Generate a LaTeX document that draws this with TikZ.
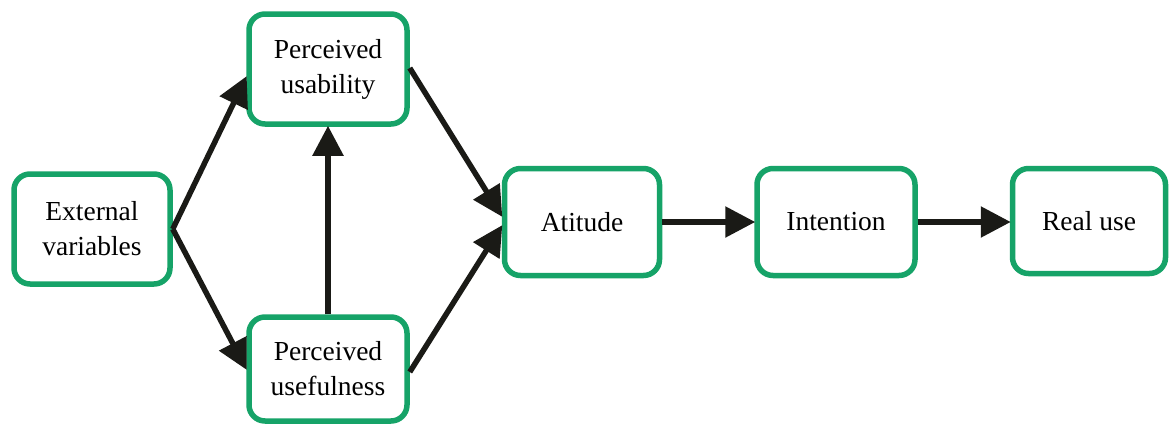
\documentclass[tikz,border=0pt]{standalone}
\usepackage{fontspec}
\setmainfont{Liberation Serif}
\usetikzlibrary{arrows.meta}
\definecolor{boxgreen}{RGB}{22,163,104}
\definecolor{arrowblack}{RGB}{26,26,22}
\tikzset{
  box/.style={draw=boxgreen, line width=5.5pt, rounded corners=16pt, fill=white,
    align=center, inner sep=0pt, font=\fontsize{27.5}{35}\selectfont},
  conn/.style={draw=arrowblack, line width=5.5pt,
    -{Triangle[length=30pt,width=30pt]}, shorten >=-1pt}
}
\begin{document}
\begin{tikzpicture}[x=1pt,y=-1pt]
\useasboundingbox (0,0) rectangle (1170,426);
\node[box, minimum width=156pt, minimum height=110pt] (ext) at (92,229) {External\\variables};
\node[box, minimum width=158pt, minimum height=110pt] (pus) at (328,69) {Perceived\\usability};
\node[box, minimum width=158pt, minimum height=104pt] (puf) at (328,369) {Perceived\\usefulness};
\node[box, minimum width=155pt, minimum height=107pt] (att) at (582,222) {Atitude};
\node[box, minimum width=158pt, minimum height=107pt] (int) at (836,222) {Intention};
\node[box, minimum width=153pt, minimum height=105pt] (real) at (1089,221) {Real use};
\draw[conn] (ext.east) -- ([yshift=-8pt]pus.west);
\draw[conn] (ext.east) -- (puf.west);
\draw[conn] (puf.north) -- (pus.south);
\draw[conn] ([yshift=1pt]pus.east) -- ([yshift=6pt]att.west);
\draw[conn] ([yshift=-3pt]puf.east) -- ([yshift=-4pt]att.west);
\draw[conn] (att.east) -- (int.west);
\draw[conn] (int.east) -- ([yshift=-1pt]real.west);
\end{tikzpicture}
\end{document}
